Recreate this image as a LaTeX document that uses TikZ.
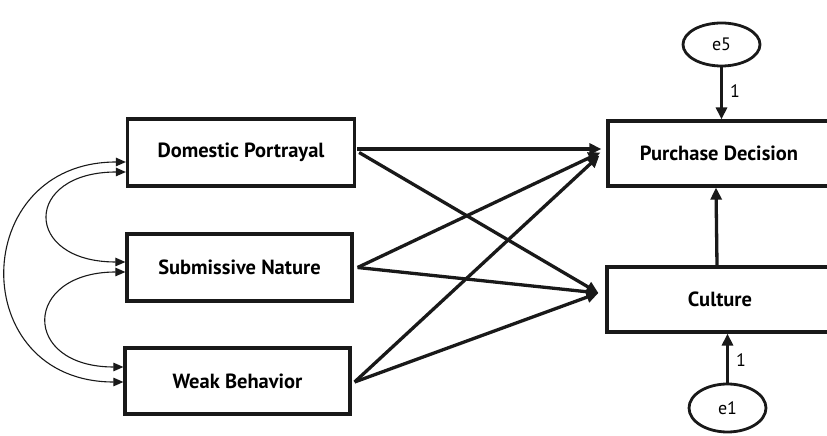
\documentclass[tikz,border=0pt]{standalone}
\usepackage{fontspec}
\setmainfont{PT Sans}
\usetikzlibrary{arrows.meta,shapes.geometric}
\begin{document}
\begin{tikzpicture}[x=1pt,y=1pt,
  box/.style={draw=black!90,line width=3.2pt,inner sep=0pt,font=\fontsize{20.5}{24}\selectfont\bfseries},
  err/.style={draw=black!90,ellipse,line width=2.8pt,inner sep=0pt,font=\fontsize{18}{22}\selectfont},
  path/.style={line width=3.3pt,draw=black!90,-{Triangle[length=12pt,width=11pt]}},
  cov/.style={line width=1.1pt,draw=black!90,{Triangle[length=10pt,width=8.5pt]}-{Triangle[length=10pt,width=8.5pt]}},
  lbl/.style={font=\fontsize{18}{22}\selectfont,inner sep=0pt}]
\useasboundingbox (0,0) rectangle (827,436);
\node[box,minimum width=227pt,minimum height=67pt] (dp) at (241,283.5) {Domestic Portrayal};
\node[box,minimum width=225pt,minimum height=67pt] (sn) at (239.5,168.5) {Submissive Nature};
\node[box,minimum width=225pt,minimum height=66pt] (wb) at (237.5,55) {Weak Behavior};
\node[box,minimum width=222pt,minimum height=65pt] (pd) at (719,282.5) {Purchase Decision};
\node[box,minimum width=226pt,minimum height=65pt] (cu) at (720,136.5) {Culture};
\node[err,minimum width=77pt,minimum height=43pt] (e5) at (721.5,391.5) {e5};
\node[err,minimum width=77pt,minimum height=48pt] (e1) at (727.5,28) {e1};
% structural paths
\draw[path] ([xshift=1pt,yshift=3.5pt]dp.east) -- ([xshift=-5pt,yshift=4.5pt]pd.west);
\draw[path] ([xshift=3pt]dp.east) -- ([xshift=-7pt,yshift=6.5pt]cu.west);
\draw[path] ([xshift=4pt]sn.east) -- ([xshift=-6pt,yshift=1pt]pd.west);
\draw[path] ([xshift=4pt]sn.east) -- ([xshift=-7pt,yshift=6.5pt]cu.west);
\draw[path] ([xshift=3pt,yshift=-1pt]wb.east) -- ([xshift=-7pt,yshift=-2pt]pd.west);
\draw[path] ([xshift=3pt,yshift=-1pt]wb.east) -- ([xshift=-7pt,yshift=6.5pt]cu.west);
\draw[path] ([xshift=-3pt]cu.north) -- ([xshift=-3pt]pd.south);
\draw[path] (e5.south) -- (e5.south |- pd.north) node[lbl,pos=0.45,right=7pt] {1};
\draw[path] (e1.north) -- (e1.north |- cu.south) node[lbl,pos=0.45,right=7pt] {1};
% covariances
\draw[cov] ([yshift=-19.5pt]dp.west) .. controls +(-103,0) and +(-103,0) .. ([yshift=5.5pt]sn.west);
\draw[cov] ([yshift=-4.5pt]sn.west) .. controls +(-103,0) and +(-103,0) .. ([yshift=14pt]wb.west);
\draw[cov] ([yshift=-9.5pt]dp.west) .. controls +(-158,0) and +(-158,0) .. ([yshift=-1pt]wb.west);
\end{tikzpicture}
\end{document}
